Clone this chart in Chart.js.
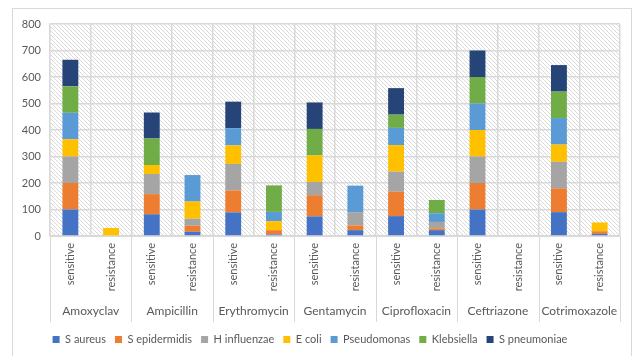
<!DOCTYPE html>
<html>
<head>
<meta charset="utf-8">
<script src="https://cdn.jsdelivr.net/npm/chart.js@4/dist/chart.umd.min.js"></script>
<style>
  html, body { margin: 0; padding: 0; background: #ffffff; }
  #wrap { width: 638px; height: 356px; }
</style>
</head>
<body>
<div id="wrap"><canvas id="chart" width="638" height="356"></canvas></div>
<script>
// Antibiotics tested, each with a sensitive / resistance pair of stacked bars
const antibiotics = ['Amoxyclav', 'Ampicillin', 'Erythromycin', 'Gentamycin', 'Ciprofloxacin', 'Ceftriazone', 'Cotrimoxazole'];
const outcomes = ['sensitive', 'resistance'];

// Isolate counts per slot: [Amoxyclav S, R, Ampicillin S, R, Erythromycin S, R, Gentamycin S, R,
//                           Ciprofloxacin S, R, Ceftriazone S, R, Cotrimoxazole S, R]
const sAureus      = [100, 0, 82, 16, 89, 6, 74, 22, 75, 22, 100, 0, 90, 8];
const sEpidermidis = [100, 0, 76, 23, 83, 16, 80, 18, 92, 7, 100, 0, 90, 10];
const hInfluenzae  = [100, 0, 76, 26, 100, 0, 50, 50, 76, 24, 100, 0, 100, 0];
const eColi        = [65, 30, 34, 65, 70, 34, 100, 0, 100, 0, 100, 0, 65, 33];
const pseudomonas  = [100, 0, 0, 100, 65, 35, 0, 100, 65, 33, 100, 0, 100, 0];
const klebsiella   = [100, 0, 100, 0, 0, 100, 100, 0, 50, 50, 100, 0, 100, 0];
const sPneumoniae  = [100, 0, 98, 0, 100, 0, 100, 0, 100, 0, 100, 0, 100, 0];

const yTicks = [0, 100, 200, 300, 400, 500, 600, 700, 800];

const organisms = [
  { name: 'S aureus',      values: sAureus,      color: '#4472C4' },
  { name: 'S epidermidis', values: sEpidermidis, color: '#ED7D31' },
  { name: 'H influenzae',  values: hInfluenzae,  color: '#A5A5A5' },
  { name: 'E coli',        values: eColi,        color: '#FFC000' },
  { name: 'Pseudomonas',   values: pseudomonas,  color: '#5B9BD5' },
  { name: 'Klebsiella',    values: klebsiella,   color: '#70AD47' },
  { name: 'S pneumoniae',  values: sPneumoniae,  color: '#264478' }
];

const slotLabels = [];
antibiotics.forEach(() => outcomes.forEach(o => slotLabels.push(o)));

const FONT = 'Lato, "Open Sans", sans-serif';
const TEXT = '#595959';
const GRID = '#d9d9d9';

// Diagonal hatch used behind the bars
function makeHatch(ctx) {
  const n = 4;
  const c = document.createElement('canvas');
  c.width = n; c.height = n;
  const g = c.getContext('2d');
  g.fillStyle = '#ffffff';
  g.fillRect(0, 0, n, n);
  g.strokeStyle = '#dadada';
  g.lineWidth = 1;
  g.beginPath();
  g.moveTo(-1, -1); g.lineTo(n + 1, n + 1);
  g.moveTo(-1, n - 1); g.lineTo(1, n + 1);
  g.moveTo(n - 1, -1); g.lineTo(n + 1, 1);
  g.stroke();
  return ctx.createPattern(c, 'repeat');
}

const framePlugin = {
  id: 'frame',
  beforeDraw(chart) {
    const { ctx, chartArea } = chart;
    ctx.save();
    ctx.fillStyle = '#ffffff';
    ctx.fillRect(0, 0, chart.width, chart.height);
    ctx.strokeStyle = GRID;
    ctx.lineWidth = 1;
    ctx.strokeRect(12.5, 8.5, 619, 360);
    ctx.fillStyle = makeHatch(ctx);
    ctx.fillRect(chartArea.left, chartArea.top, chartArea.right - chartArea.left, chartArea.bottom - chartArea.top);
    ctx.restore();
  },
  afterDraw(chart) {
    const { ctx, chartArea } = chart;
    const x = chart.scales.x;
    const slotW = (chartArea.right - chartArea.left) / slotLabels.length;
    ctx.save();
    ctx.strokeStyle = GRID;
    ctx.lineWidth = 1;
    for (let i = 0; i <= antibiotics.length; i++) {
      const px = Math.round(chartArea.left + i * 2 * slotW) + 0.5;
      ctx.beginPath();
      ctx.moveTo(px, chartArea.bottom);
      ctx.lineTo(px, 322);
      ctx.stroke();
    }
    ctx.fillStyle = TEXT;
    ctx.font = '12px ' + FONT;
    ctx.textAlign = 'center';
    ctx.textBaseline = 'middle';
    antibiotics.forEach((name, i) => {
      const cx = (x.getPixelForValue(i * 2) + x.getPixelForValue(i * 2 + 1)) / 2;
      ctx.fillText(name, cx, 311);
    });
    ctx.restore();
  }
};

new Chart(document.getElementById('chart'), {
  type: 'bar',
  data: {
    labels: slotLabels,
    datasets: organisms.map(o => ({
      label: o.name,
      data: o.values,
      backgroundColor: o.color,
      borderWidth: 0,
      categoryPercentage: 1,
      barPercentage: 0.39
    }))
  },
  options: {
    responsive: false,
    animation: false,
    layout: { padding: { left: 0, right: 18, top: 24, bottom: 1 } },
    plugins: {
      title: { display: false },
      tooltip: { enabled: false },
      legend: {
        position: 'bottom',
        labels: {
          boxWidth: 7,
          boxHeight: 7,
          padding: 9,
          color: TEXT,
          font: { family: FONT, size: 11 }
        }
      }
    },
    scales: {
      x: {
        stacked: true,
        grid: { display: true, offset: true, color: GRID, lineWidth: 1.5, drawTicks: false },
        border: { display: true, color: GRID, width: 1 },
        ticks: {
          minRotation: 90,
          maxRotation: 90,
          autoSkip: false,
          padding: 7,
          color: TEXT,
          font: { family: FONT, size: 11 }
        },
        afterFit(scale) { scale.height = 89; }
      },
      y: {
        stacked: true,
        min: 0,
        max: 800,
        afterBuildTicks(scale) { scale.ticks = yTicks.map(v => ({ value: v })); },
        grid: { color: GRID, lineWidth: 1.5, drawTicks: false },
        border: { display: true, color: GRID, width: 1.5 },
        ticks: {
          padding: 9,
          color: TEXT,
          font: { family: FONT, size: 11 }
        },
        afterFit(scale) { scale.width = 50; }
      }
    }
  },
  plugins: [framePlugin]
});
</script>
</body>
</html>
